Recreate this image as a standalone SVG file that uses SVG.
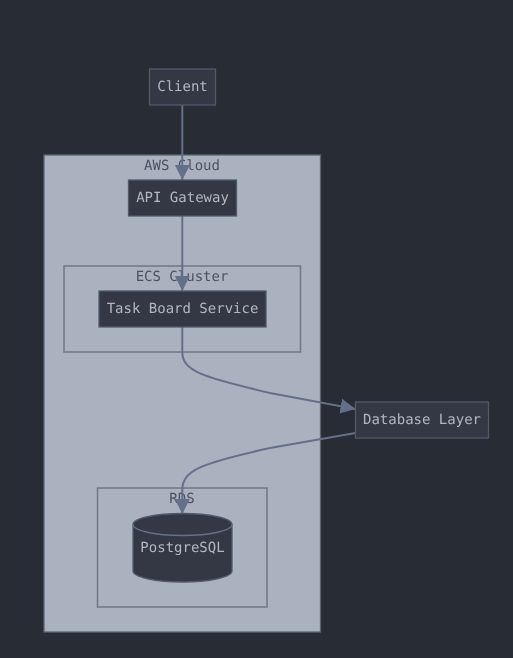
<svg xmlns="http://www.w3.org/2000/svg" width="513" height="658" viewBox="0 0 513 658">
<style>
.node{fill:#343844;stroke:#515a6d;stroke-width:1.3}
.cluster{fill:#abb2bf;stroke:#5c6370;stroke-width:1.3}
.sub{fill:#abb2bf;stroke:#737a88;stroke-width:1.6}
.edge{fill:none;stroke:#64708a;stroke-width:2}
text{font-family:"DejaVu Sans Mono",monospace;font-size:14px;text-anchor:middle;text-rendering:geometricPrecision;filter:url(#gray)}
.nl{fill:#b1b7c2}
.cl{fill:#4b5263}
</style>
<defs>
<filter id="gray" x="-5%" y="-20%" width="110%" height="140%" color-interpolation-filters="sRGB"><feOffset dx="0" dy="0"/></filter>
<marker id="arrow" markerUnits="userSpaceOnUse" markerWidth="16" markerHeight="16" refX="15" refY="8" orient="auto">
<path d="M0 0.500L15 8L0 15.500Z" fill="#64708a"/>
</marker>
</defs>
<rect width="513" height="658" fill="#282c34"/>
<g id="cluster-aws"><rect class="cluster" x="44" y="155" width="276.500" height="477"/><text class="cl" x="182" y="170">AWS Cloud</text></g>
<g id="cluster-ecs"><rect class="sub" x="64" y="266" width="236.500" height="86"/><text class="cl" x="182" y="281">ECS Cluster</text></g>
<g id="cluster-rds"><rect class="sub" x="97.500" y="488" width="169.500" height="119"/><text class="cl" x="182" y="503">RDS</text></g>
<g id="connectors">
<path class="edge" marker-end="url(#arrow)" d="M182.300 105V180"/>
<path class="edge" marker-end="url(#arrow)" d="M182.300 216V291"/>
<path class="edge" marker-end="url(#arrow)" d="M182.300 327V352C182.300 371 202 377 270 393L355.500 409"/>
<path class="edge" marker-end="url(#arrow)" d="M355.500 433L270 448C202 463 182.300 470 182.300 490V514"/>
</g>
<g id="client"><rect class="node" x="149.500" y="69" width="66" height="36"/><text class="nl" x="182.500" y="91">Client</text></g>
<g id="api-gateway"><rect class="node" x="128.500" y="180" width="108" height="36"/><text class="nl" x="182.500" y="202">API Gateway</text></g>
<g id="task-board"><rect class="node" x="99" y="291" width="167" height="36"/><text class="nl" x="182.500" y="313">Task Board Service</text></g>
<g id="database-layer"><rect class="node" x="355.500" y="402" width="133" height="36"/><text class="nl" x="422" y="424">Database Layer</text></g>
<g id="postgresql">
<path class="node" d="M133 524.500C133 518.500 155 513.500 182.500 513.500C210 513.500 232 518.500 232 524.500V571C232 577 210 582 182.500 582C155 582 133 577 133 571Z"/>
<path fill="none" stroke="#64708a" stroke-width="1.300" d="M133 524.500C133 530.500 155 535.500 182.500 535.500C210 535.500 232 530.500 232 524.500"/>
<text class="nl" x="182.500" y="552">PostgreSQL</text>
</g>
</svg>
